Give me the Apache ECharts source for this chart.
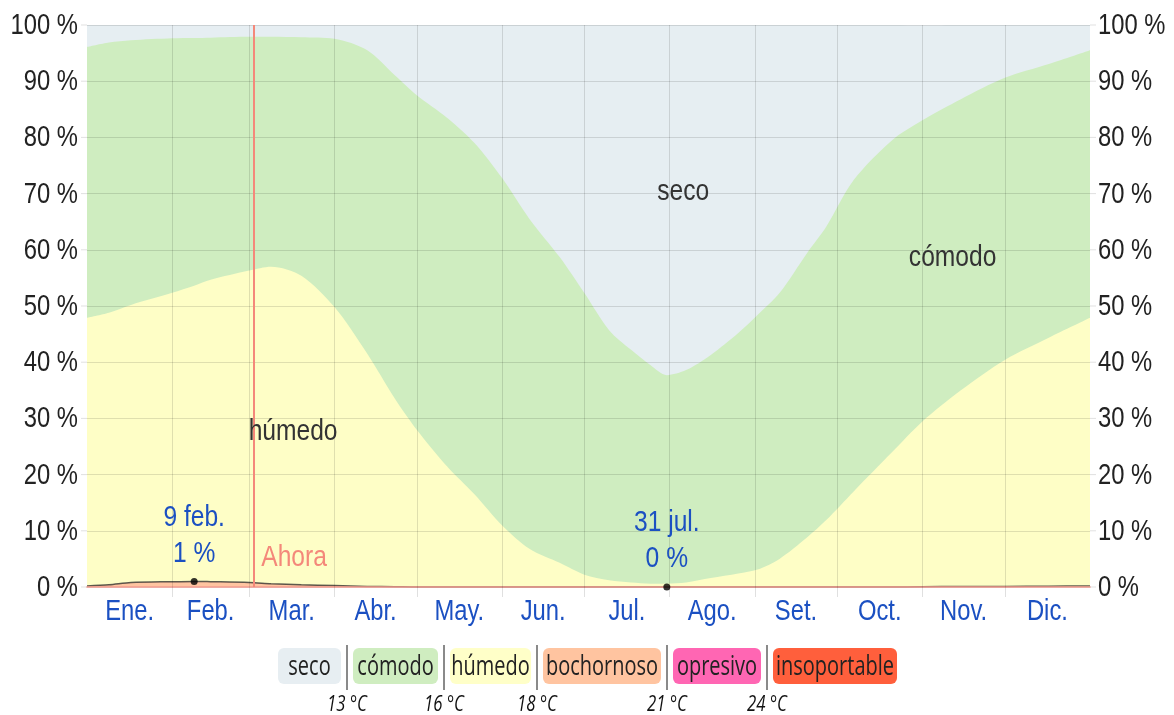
<!DOCTYPE html>
<html>
<head>
<meta charset="utf-8">
<script src="https://cdn.jsdelivr.net/npm/echarts@6/dist/echarts.min.js"></script>
<style>
  html, body { margin: 0; padding: 0; background: #fff; }
  #chart { width: 1174px; height: 715px; }
</style>
</head>
<body>
<div id="chart"></div>
<script>
// Month names and the day of year on which each month starts
const monthNames = ['Ene.', 'Feb.', 'Mar.', 'Abr.', 'May.', 'Jun.', 'Jul.', 'Ago.', 'Set.', 'Oct.', 'Nov.', 'Dic.'];
const monthStarts = [0, 31, 59, 90, 120, 151, 181, 212, 243, 273, 304, 334, 365];

// Percent axis ticks
const yTicks = [0, 10, 20, 30, 40, 50, 60, 70, 80, 90, 100];

// Day of year for each sample
const days = [0, 8, 16, 31, 39, 45, 59, 67, 78, 90,
              102, 112, 120, 131, 141, 151, 161, 172, 181, 190,
              198, 205, 211, 218, 227, 237, 244, 252, 262, 269,
              279, 293, 304, 318, 334, 350, 365];

// Percentage of time in each humidity comfort level
const bochornoso = [0.2, 0.4, 0.8, 0.95, 1.0, 0.95, 0.8, 0.6, 0.4, 0.25,
                    0.1, 0.05, 0, 0, 0, 0, 0, 0, 0, 0,
                    0, 0, 0, 0, 0, 0, 0, 0, 0, 0,
                    0, 0, 0.05, 0.1, 0.1, 0.15, 0.2];
const humedo = [47.7, 48.4, 49.4, 51.4, 52.6, 53.7, 55.5, 56.4, 55.0, 49.6,
                41.4, 33.5, 28.0, 21.5, 16.5, 11.0, 6.8, 4.3, 2.2, 1.2,
                0.8, 0.6, 0.6, 0.8, 1.6, 2.4, 3.1, 5.0, 8.8, 11.9,
                17.0, 24.0, 29.4, 34.9, 40.3, 44.2, 47.7];
const comodo = [48.2, 48.1, 47.1, 45.3, 44.1, 43.1, 41.6, 40.9, 42.4, 47.7,
                54.0, 57.5, 59.5, 62.0, 62.5, 61.8, 58.7, 54.4, 50.1, 44.5,
                41.4, 38.9, 37.1, 37.8, 39.7, 42.8, 45.3, 47.3, 50.6, 52.2,
                55.4, 55.5, 53.6, 51.8, 50.2, 48.7, 47.6];
const seco = [3.9, 3.1, 2.7, 2.4, 2.3, 2.3, 2.1, 2.1, 2.2, 2.5,
              4.5, 9.0, 12.5, 16.5, 21.0, 27.2, 34.5, 41.3, 47.7, 54.3,
              57.8, 60.5, 62.3, 61.4, 58.7, 54.8, 51.6, 47.7, 40.6, 35.9,
              27.6, 20.5, 16.9, 13.2, 9.4, 7.0, 4.5];

// Highest and lowest muggy days
const highlightDays = [39, 211];
const highlightDates = ['9 feb.', '31 jul.'];
const highlightValues = [1, 0];

// Current date marker (day of year)
const nowDay = 60.5;

// Comfort scale shown below the chart
const legendNames = ['seco', 'cómodo', 'húmedo', 'bochornoso', 'opresivo', 'insoportable'];
const legendColors = ['#e7eef2', '#cfedc0', '#ffffc8', '#ffc4a0', '#ff66b3', '#ff5f3c'];
const thresholdLabels = ['13 °C', '16 °C', '18 °C', '21 °C', '24 °C'];

// ---- styling ----
const SANS = "'Liberation Sans', Arial, sans-serif";
const NARROW_SCALE = 0.82;           // Arial squeezed to a narrow cut
const GRID = 'rgba(0,0,0,0.12)';
const BLUE = '#1b50c2';
const INK = '#222';

// running totals from the bottom level upward
const running = [];
[bochornoso, humedo, comodo, seco].forEach((arr, k) => {
  running.push(arr.map((v, i) => v + (k ? running[k - 1][i] : 0)));
});
const pairs = arr => days.map((d, i) => [d, arr[i]]);
const monthMids = monthNames.map((_, i) => (monthStarts[i] + monthStarts[i + 1]) / 2);

function narrowText(x, y, text, size, fill, align, vAlign) {
  return {
    type: 'text', x, y, scaleX: NARROW_SCALE,
    style: {
      text, font: size + 'px ' + SANS, fill,
      align: align || 'center', verticalAlign: vAlign || 'middle'
    }
  };
}

function areaSeries(name, values, color, extra) {
  return Object.assign({
    name, type: 'line', smooth: 0.3, symbol: 'none', silent: true,
    data: pairs(values),
    lineStyle: { width: 0 },
    areaStyle: { color, opacity: 1, origin: 'start' },
    z: 2
  }, extra || {});
}

function textSeries(data, render, z) {
  return { type: 'custom', data, clip: false, silent: true, z: z || 8, renderItem: render };
}

// Comfort scale legend
function buildLegend() {
  const boxW = [63, 85, 81, 118, 88, 124];
  const top = 648, h = 36, gapIn = 6, gapOut = 6, squeeze = 0.74;
  const font = "27px 'Open Sans', sans-serif";
  let x = 278;
  const els = [];
  legendNames.forEach((name, i) => {
    const w = boxW[i];
    els.push({ type: 'rect', shape: { x, y: top, width: w, height: h, r: 6 }, style: { fill: legendColors[i] } });
    els.push({ type: 'text', x: x + w / 2, y: top + h / 2 + 1, scaleX: squeeze,
      style: { text: name, font, fill: '#222', align: 'center', verticalAlign: 'middle' } });
    x += w;
    if (i < legendNames.length - 1) {
      const sx = x + gapIn;
      els.push({ type: 'line', shape: { x1: sx, y1: 645, x2: sx, y2: 690 }, style: { stroke: '#8a8a8a', lineWidth: 2 } });
      els.push({ type: 'text', x: sx, y: 705, scaleX: 0.8,
        style: { text: thresholdLabels[i], font: "italic 21px 'Open Sans', sans-serif", fill: '#111', align: 'center', verticalAlign: 'middle' } });
      x = sx + gapOut;
    }
  });
  return els;
}

const chart = echarts.init(document.getElementById('chart'));

const option = {
  animation: false,
  backgroundColor: '#fff',
  grid: { left: 87, right: 84, top: 25, bottom: 128, outerBoundsMode: 'none' },
  xAxis: {
    type: 'value', min: 0, max: 365, z: 3,
    axisLine: { show: true, lineStyle: { color: '#f29a8f', width: 1.5 } },
    axisTick: { show: true, customValues: monthStarts.slice(1, 12), length: 10, lineStyle: { color: GRID } },
    axisLabel: { show: false },
    splitLine: { show: false }
  },
  yAxis: {
    type: 'value', min: 0, max: 100, interval: 10, z: 3,
    axisLine: { show: false },
    axisTick: { show: false },
    axisLabel: { show: false },
    splitLine: { show: true, lineStyle: { color: GRID } }
  },
  series: [
    areaSeries('seco', running[3], '#e6eef2'),
    areaSeries('cómodo', running[2], '#cfedc0'),
    areaSeries('húmedo', running[1], '#fefec6'),
    areaSeries('bochornoso', running[0], '#ffc4a0',
      { lineStyle: { width: 1.5, color: 'rgba(40,40,40,0.75)' } }),

    // month grid lines and current date line
    {
      type: 'line', data: [], silent: true,
      markLine: {
        silent: true, symbol: ['none', 'none'], label: { show: false }, animation: false,
        data: monthStarts.slice(1, 12).map(d => ({ xAxis: d, lineStyle: { color: GRID, width: 1, type: 'solid' } }))
          .concat([{ xAxis: nowDay, lineStyle: { color: '#f4887a', width: 2, type: 'solid' } }])
      }
    },

    // percent tick labels on both sides
    textSeries(yTicks.map(v => [v]), (params, api) => {
      const v = api.value(0);
      const l = api.coord([0, v]);
      const r = api.coord([365, v]);
      return { type: 'group', children: [
        { type: 'line', shape: { x1: l[0] - 6, y1: l[1], x2: l[0], y2: l[1] }, style: { stroke: GRID } },
        { type: 'line', shape: { x1: r[0], y1: r[1], x2: r[0] + 6, y2: r[1] }, style: { stroke: GRID } },
        narrowText(l[0] - 9, l[1] + 1, v + ' %', 29, INK, 'right'),
        narrowText(r[0] + 8, r[1] + 1, v + ' %', 29, INK, 'left')
      ] };
    }),

    // month names
    textSeries(monthMids.map((m, i) => [m, i]), (params, api) => {
      const p = api.coord([api.value(0), 0]);
      return narrowText(p[0], p[1] + 25, monthNames[api.value(1)], 29, BLUE);
    }),

    // comfort level names
    textSeries([[217, 70.3, 0], [315, 58.5, 1], [75, 27.6, 2]], (params, api) => {
      const p = api.coord([api.value(0), api.value(1)]);
      return narrowText(p[0], p[1], legendNames[api.value(2)], 30, '#333');
    }),

    // current date caption
    textSeries([[nowDay, 0]], (params, api) => {
      const p = api.coord([api.value(0), api.value(1)]);
      return narrowText(p[0] + 8, p[1] - 29, 'Ahora', 30, '#f4887a', 'left');
    }),

    // extreme days: dot plus date and value
    {
      type: 'scatter', symbolSize: 7, itemStyle: { color: '#000' }, z: 9, silent: true,
      data: highlightDays.map((d, i) => [d, highlightValues[i]])
    },
    textSeries(highlightDays.map((d, i) => [d, highlightValues[i], i]), (params, api) => {
      const p = api.coord([api.value(0), api.value(1)]);
      const i = api.value(2);
      return { type: 'group', children: [
        narrowText(p[0], p[1] - 64, highlightDates[i], 30, BLUE),
        narrowText(p[0], p[1] - 28, highlightValues[i] + ' %', 30, BLUE)
      ] };
    })
  ],
  graphic: buildLegend()
};

chart.setOption(option);
</script>
</body>
</html>
